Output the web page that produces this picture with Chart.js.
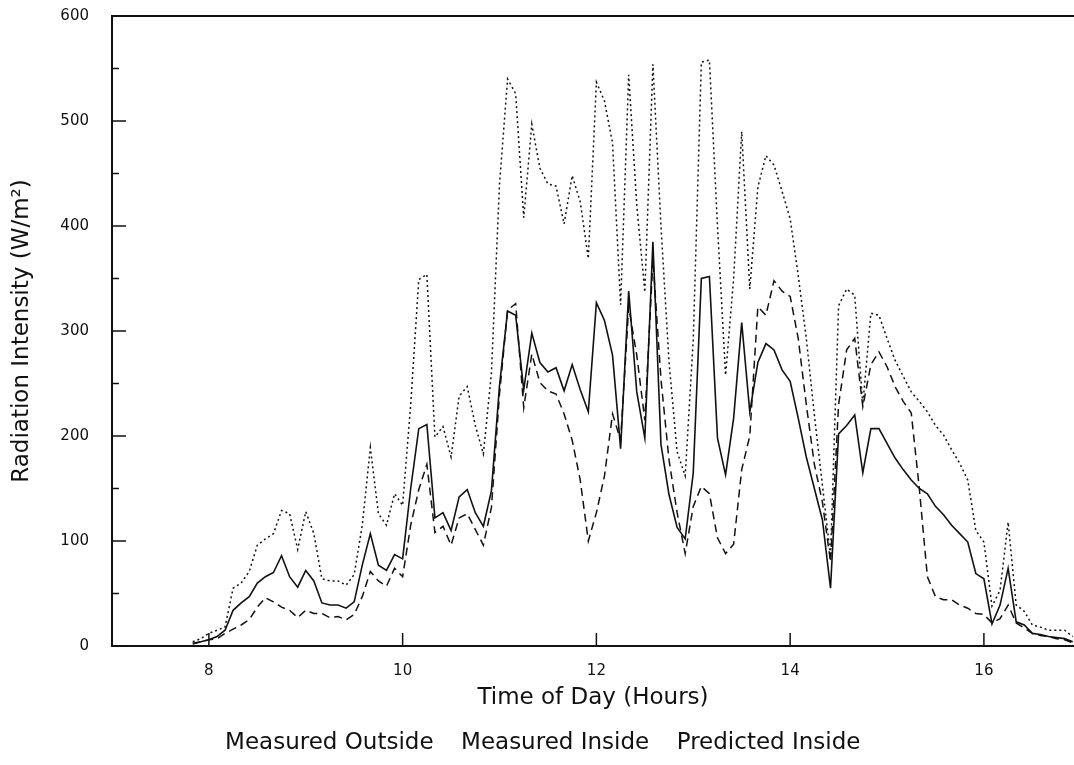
<!DOCTYPE html>
<html>
<head>
<meta charset="utf-8">
<script src="https://cdn.jsdelivr.net/npm/chart.js@4"></script>
<style>
  html, body { margin: 0; padding: 0; background: #fff; }
  canvas { display: block; }
</style>
</head>
<body>
<canvas id="myChart" width="1074" height="765"></canvas>
<script>
// readings every 5 minutes, 7:50 to 16:55
const times = [
  '7:50', '7:55',
  '8:00', '8:05', '8:10', '8:15', '8:20', '8:25', '8:30', '8:35', '8:40', '8:45', '8:50', '8:55',
  '9:00', '9:05', '9:10', '9:15', '9:20', '9:25', '9:30', '9:35', '9:40', '9:45', '9:50', '9:55',
  '10:00', '10:05', '10:10', '10:15', '10:20', '10:25', '10:30', '10:35', '10:40', '10:45', '10:50', '10:55',
  '11:00', '11:05', '11:10', '11:15', '11:20', '11:25', '11:30', '11:35', '11:40', '11:45', '11:50', '11:55',
  '12:00', '12:05', '12:10', '12:15', '12:20', '12:25', '12:30', '12:35', '12:40', '12:45', '12:50', '12:55',
  '13:00', '13:05', '13:10', '13:15', '13:20', '13:25', '13:30', '13:35', '13:40', '13:45', '13:50', '13:55',
  '14:00', '14:05', '14:10', '14:15', '14:20', '14:25', '14:30', '14:35', '14:40', '14:45', '14:50', '14:55',
  '15:00', '15:05', '15:10', '15:15', '15:20', '15:25', '15:30', '15:35', '15:40', '15:45', '15:50', '15:55',
  '16:00', '16:05', '16:10', '16:15', '16:20', '16:25', '16:30', '16:35', '16:40', '16:45', '16:50', '16:55'
];

// Measured Outside (dotted)
const measuredOutside = [
  4, 7,
  12, 15, 18, 55, 60, 71, 96, 102, 107, 129, 126, 92,
  128, 107, 64, 62, 62, 58, 68, 115, 189, 126, 115, 145,
  134, 230, 349, 354, 199, 209, 180, 238, 247, 210, 183, 260,
  440, 540, 526, 408, 497, 455, 440, 438, 402, 448, 423, 369,
  537, 519, 479, 325, 544, 420, 337, 554, 400, 270, 185, 162,
  292, 556, 558, 400, 258, 350, 490, 340, 437, 467, 458, 433,
  407, 353, 293, 220, 153, 85, 324, 340, 334, 230, 317, 315,
  293, 272, 257, 242, 233, 223, 210, 201, 187, 174, 158, 110,
  99, 38, 53, 118, 39, 33, 20, 18, 15, 15, 15, 9
];

// Measured Inside (solid)
const measuredInside = [
  2.5, 4,
  6, 9, 15, 34, 41, 47, 60, 66, 70, 86, 66, 56,
  72, 62, 41, 39, 39, 36, 42, 77, 107, 77, 72, 87,
  83, 150, 207, 211, 122, 127, 110, 142, 149, 127, 114, 148,
  248, 319, 315, 244, 298, 270, 261, 265, 243, 268, 244, 223,
  327, 310, 277, 188, 338, 242, 198, 385, 192, 144, 113, 102,
  165, 350, 352, 198, 163, 217, 308, 223, 270, 288, 282, 263,
  252, 217, 180, 150, 120, 55, 202, 210, 220, 165, 207, 207,
  193, 179, 168, 158, 150, 145, 133, 125, 115, 107, 99, 69,
  64, 21, 39, 74, 23, 20, 12, 11, 9, 8, 7, 4
];

// Predicted Inside (dashed)
const predictedInside = [
  2, 4,
  6, 7, 12, 16, 20, 25, 37, 46, 42, 37, 34, 27,
  34, 31, 31, 27, 28, 25, 30, 47, 71, 62, 57, 74,
  66, 115, 149, 173, 108, 114, 96, 122, 126, 111, 96, 132,
  240, 320, 326, 227, 278, 251, 243, 240, 221, 196, 158, 100,
  127, 162, 221, 196, 323, 277, 215, 368, 254, 177, 127, 88,
  133, 152, 145, 103, 88, 97, 168, 200, 323, 315, 348, 338,
  333, 293, 230, 173, 137, 80, 230, 282, 293, 228, 268, 280,
  266, 247, 233, 222, 150, 66, 47, 44, 44, 39, 36, 31,
  30, 22, 26, 39, 22, 17, 12, 10, 9, 7, 6, 3
];

const xTicks = [8, 10, 12, 14, 16];
const seriesNames = ['Measured Outside', 'Measured Inside', 'Predicted Inside'];

const ink = '#111';
Chart.defaults.font.family = "'DejaVu Sans', sans-serif";
Chart.defaults.color = ink;

const hours = times.map(t => {
  const [h, m] = t.split(':').map(Number);
  return h + m / 60;
});
const toPoints = vals => vals.map((v, i) => ({ x: hours[i], y: v }));

// ticks drawn inward like the original plot, plus the top frame line
const inwardTicks = {
  id: 'inwardTicks',
  afterDraw(chart) {
    const { ctx, chartArea: a, scales: { x, y } } = chart;
    ctx.save();
    ctx.strokeStyle = ink;
    ctx.lineWidth = 1.5;
    ctx.beginPath();
    y.ticks.forEach(t => {
      const py = y.getPixelForValue(t.value);
      ctx.moveTo(a.left, py);
      ctx.lineTo(a.left + (t.value % 100 === 0 ? 14 : 7), py);
    });
    x.ticks.forEach(t => {
      const px = x.getPixelForValue(t.value);
      ctx.moveTo(px, a.bottom);
      ctx.lineTo(px, a.bottom - 13);
    });
    ctx.stroke();
    ctx.lineWidth = 2;
    ctx.beginPath();
    ctx.moveTo(a.left, a.top);
    ctx.lineTo(a.right, a.top);
    ctx.stroke();
    ctx.restore();
  }
};

const ctx = document.getElementById('myChart').getContext('2d');
const chart = new Chart(ctx, {
  type: 'line',
  data: {
    datasets: [{
      label: seriesNames[0],
      data: toPoints(measuredOutside),
      borderColor: ink,
      borderWidth: 1.5,
      borderDash: [2, 3]
    }, {
      label: seriesNames[1],
      data: toPoints(measuredInside),
      borderColor: ink,
      borderWidth: 1.6
    }, {
      label: seriesNames[2],
      data: toPoints(predictedInside),
      borderColor: ink,
      borderWidth: 1.5,
      borderDash: [8, 5]
    }]
  },
  options: {
    responsive: false,
    animation: false,
    elements: { point: { radius: 0 }, line: { tension: 0 } },
    layout: { padding: { top: 16, right: 0, bottom: 0, left: 0 } },
    plugins: {
      tooltip: { enabled: false },
      legend: {
        position: 'bottom',
        labels: {
          font: { size: 23 },
          color: ink,
          boxWidth: 0,
          boxHeight: 0,
          padding: 16,
          generateLabels: c => c.data.datasets.map((d, i) => ({
            text: d.label,
            datasetIndex: i,
            fillStyle: 'rgba(0,0,0,0)',
            strokeStyle: 'rgba(0,0,0,0)',
            lineWidth: 0,
            fontColor: ink
          }))
        }
      }
    },
    scales: {
      x: {
        type: 'linear',
        min: 7,
        max: 16.93,
        grid: { display: false },
        border: { display: true, color: ink, width: 2 },
        afterBuildTicks: s => { s.ticks = xTicks.map(v => ({ value: v })); },
        afterFit: s => { s.height = 70; s.paddingLeft = 0; s.paddingRight = 0; },
        ticks: { font: { size: 15 }, color: ink, padding: 8, maxRotation: 0 },
        title: {
          display: true,
          text: 'Time of Day (Hours)',
          font: { size: 23 },
          color: ink,
          padding: { top: 0, bottom: 4 }
        }
      },
      y: {
        min: 0,
        max: 600,
        grid: { display: false },
        border: { display: true, color: ink, width: 2 },
        afterFit: s => { s.width = 112; s.paddingTop = 0; s.paddingBottom = 0; },
        ticks: {
          stepSize: 50,
          font: { size: 15 },
          color: ink,
          padding: 15,
          callback: v => (v % 100 === 0 ? v : '')
        },
        title: {
          display: true,
          text: 'Radiation Intensity (W/m²)',
          font: { size: 23 },
          color: ink,
          padding: { top: 8, bottom: 0 }
        }
      }
    }
  },
  plugins: [inwardTicks]
});
</script>
</body>
</html>
